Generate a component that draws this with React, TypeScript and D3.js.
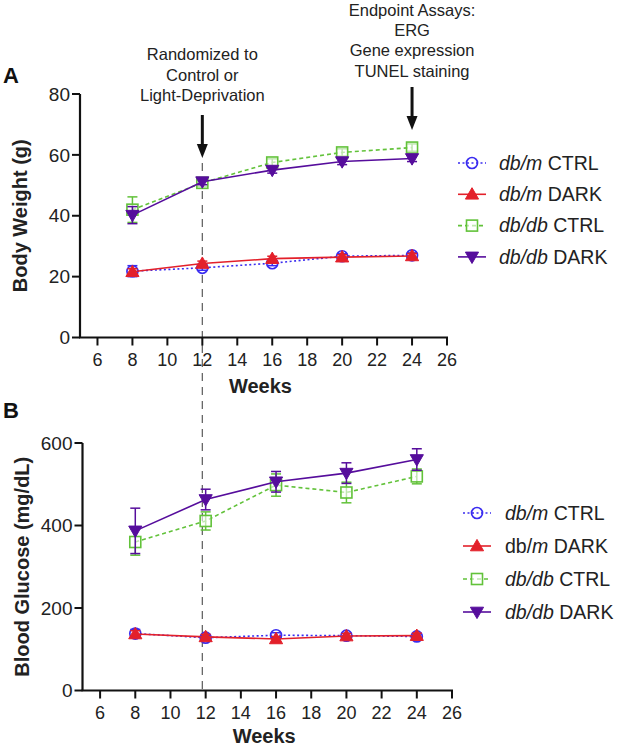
import * as d3 from "d3";

const WEEKS = [8, 12, 16, 20, 24];
const X_TICKS = [6, 8, 10, 12, 14, 16, 18, 20, 22, 24, 26];

// Panel A: body weight (g)
const BW_TICKS = [0, 20, 40, 60, 80];
const BW_CTRL_M = [21.8, 22.9, 24.4, 26.7, 27.0];
const BW_CTRL_M_ERR = [1.8, 0.8, 0.8, 0.8, 0.8];
const BW_DARK_M = [21.6, 24.3, 25.9, 26.4, 26.8];
const BW_DARK_M_ERR = [1.0, 0.8, 0.8, 0.8, 0.8];
const BW_CTRL_DB = [42.0, 50.8, 57.5, 60.8, 62.4];
const BW_CTRL_DB_ERR = [4.2, 1.2, 1.2, 1.2, 1.2];
const BW_DARK_DB = [40.2, 51.2, 55.0, 57.8, 58.8];
const BW_DARK_DB_ERR = [2.8, 1.0, 1.0, 1.0, 1.0];

// Panel B: blood glucose (mg/dL)
const BG_TICKS = [0, 200, 400, 600];
const BG_CTRL_M = [138, 128, 134, 133, 131];
const BG_CTRL_M_ERR = [10, 6, 6, 6, 6];
const BG_DARK_M = [137, 130, 125, 132, 133];
const BG_DARK_M_ERR = [8, 6, 6, 6, 6];
const BG_CTRL_DB = [360, 411, 498, 480, 519];
const BG_CTRL_DB_ERR = [32, 22, 27, 25, 18];
const BG_DARK_DB = [387, 463, 506, 527, 560];
const BG_DARK_DB_ERR = [55, 25, 25, 25, 26];

const RANDOM_LINES = ["Randomized to", "Control or", "Light-Deprivation"];
const ENDPOINT_LINES = ["Endpoint Assays:", "ERG", "Gene expression", "TUNEL staining"];

const FONT = "'Liberation Sans', Arial, Helvetica, sans-serif";

type Style = {
  key: string;
  color: string;
  dash: string;
  shape: "circle" | "tri" | "square" | "tridown";
  filled: boolean;
};

const STYLES: Style[] = [
  { key: "ctrlM", color: "#3a2cf0", dash: "2,2.5", shape: "circle", filled: false },
  { key: "darkM", color: "#e3202a", dash: "none", shape: "tri", filled: true },
  { key: "ctrlDb", color: "#62c23a", dash: "4,3", shape: "square", filled: false },
  { key: "darkDb", color: "#560d9c", dash: "none", shape: "tridown", filled: true },
];

function Marker({ x, y, s }: { x: number; y: number; s: Style }) {
  const fill = s.filled ? s.color : "#fff";
  if (s.shape === "circle") {
    return <circle cx={x} cy={y} r={5.5} fill="none" stroke={s.color} strokeWidth={1.7} />;
  }
  if (s.shape === "square") {
    return <rect x={x - 5.5} y={y - 5.5} width={11} height={11} fill="#fff" fillOpacity={0.6} stroke={s.color} strokeWidth={1.6} />;
  }
  const path = d3.symbol().type(d3.symbolTriangle).size(75)()!;
  const rot = s.shape === "tridown" ? 180 : 0;
  return <path d={path} transform={`translate(${x},${y + (rot ? -1 : 1)}) rotate(${rot})`} fill={fill} stroke={s.color} strokeWidth={1} />;
}

type PanelProps = {
  x0: number;
  x1: number;
  yTop: number;
  yBottom: number;
  yMax: number;
  yTicks: number[];
  series: number[][];
  errs: number[][];
  yTitle: string;
  titleX: number;
  weeksY: number;
};

function Panel({ x0, x1, yTop, yBottom, yMax, yTicks, series, errs, yTitle, titleX, weeksY }: PanelProps) {
  const x = d3.scaleLinear().domain([5, 26]).range([x0, x1]);
  const y = d3.scaleLinear().domain([0, yMax]).range([yBottom, yTop]);
  const line = d3
    .line<number>()
    .x((_, i) => x(WEEKS[i]))
    .y((d) => y(d));

  return (
    <g fontFamily={FONT}>
      {/* series */}
      {series.map((vals, si) => {
        const s = STYLES[si];
        return (
          <g key={s.key}>
            <path d={line(vals)!} fill="none" stroke={s.color} strokeWidth={1.6} strokeDasharray={s.dash} />
            {vals.map((v, i) => {
              const e = errs[si][i];
              const cx = x(WEEKS[i]);
              return (
                <g key={i} stroke={s.color} strokeWidth={1.5}>
                  <line x1={cx} x2={cx} y1={y(v - e)} y2={y(v + e)} />
                  <line x1={cx - 5} x2={cx + 5} y1={y(v - e)} y2={y(v - e)} />
                  <line x1={cx - 5} x2={cx + 5} y1={y(v + e)} y2={y(v + e)} />
                </g>
              );
            })}
            {vals.map((v, i) => (
              <Marker key={"m" + i} x={x(WEEKS[i])} y={y(v)} s={s} />
            ))}
          </g>
        );
      })}

      {/* axes */}
      <line x1={x0} x2={x0} y1={yTop} y2={yBottom} stroke="#111" strokeWidth={2.2} />
      <line x1={x0 - 1} x2={x1 + 1} y1={yBottom} y2={yBottom} stroke="#111" strokeWidth={2.2} />
      {yTicks.map((t) => (
        <g key={t}>
          <line x1={x0 - 8} x2={x0} y1={y(t)} y2={y(t)} stroke="#111" strokeWidth={2} />
          <text x={x0 - 10} y={y(t)} dy="0.35em" textAnchor="end" fontSize={19} fill="#222">
            {t}
          </text>
        </g>
      ))}
      {X_TICKS.map((t) => (
        <g key={t}>
          <line x1={x(t)} x2={x(t)} y1={yBottom} y2={yBottom + 8} stroke="#111" strokeWidth={2} />
          <text x={x(t)} y={yBottom + 28} textAnchor="middle" fontSize={18} fill="#222">
            {t}
          </text>
        </g>
      ))}
      <text x={(x0 + x1) / 2 - 3} y={weeksY} textAnchor="middle" fontSize={20} fontWeight="bold" fill="#222">
        Weeks
      </text>
      <text
        transform={`translate(${titleX},${(yTop + yBottom) / 2}) rotate(-90)`}
        dy="0.35em"
        textAnchor="middle"
        fontSize={20}
        fontWeight="bold"
        fill="#222"
      >
        {yTitle}
      </text>
    </g>
  );
}

function Legend({ lx, tx, y0, step, variant }: { lx: number; tx: number; y0: number; step: number; variant: "A" | "B" }) {
  const labels = [
    [["db/m", true], [" CTRL", false]],
    variant === "A"
      ? [["db/m", true], [" DARK", false]]
      : [["db/", false], ["m", true], [" DARK", false]],
    [["db/db", true], [" CTRL", false]],
    [["db/db", true], [" DARK", false]],
  ] as [string, boolean][][];
  return (
    <g fontFamily={FONT}>
      {STYLES.map((s, i) => {
        const yy = y0 + i * step;
        return (
          <g key={s.key}>
            <line x1={lx - 14} x2={lx + 14} y1={yy} y2={yy} stroke={s.color} strokeWidth={1.6} strokeDasharray={s.dash} />
            <Marker x={lx} y={yy} s={s} />
            <text x={tx} y={yy} dy="0.35em" fontSize={19.5} fill="#222">
              {labels[i].map(([t, it], j) => (
                <tspan key={j} fontStyle={it ? "italic" : "normal"}>
                  {t}
                </tspan>
              ))}
            </text>
          </g>
        );
      })}
    </g>
  );
}

function Arrow({ x, y1, y2 }: { x: number; y1: number; y2: number }) {
  return (
    <g>
      <line x1={x} x2={x} y1={y1} y2={y2 - 12} stroke="#111" strokeWidth={3} />
      <path d={`M${x - 5.5},${y2 - 14} L${x + 5.5},${y2 - 14} L${x},${y2} Z`} fill="#111" />
    </g>
  );
}

export default function App() {
  const xA = d3.scaleLinear().domain([5, 26]).range([80, 447]);
  const xRand = xA(12);
  const xEnd = xA(24);
  return (
    <div style={{ position: "absolute", left: 0, top: 0 }}>
      <svg width={620} height={748} style={{ display: "block", background: "#fff" }}>
        {/* dashed randomization line across both panels */}
        <line x1={xRand} x2={xRand} y1={163} y2={690} stroke="#666" strokeWidth={1.3} strokeDasharray="8,6" />

        <Panel
          x0={80}
          x1={447}
          yTop={94}
          yBottom={337.5}
          yMax={80}
          yTicks={BW_TICKS}
          series={[BW_CTRL_M, BW_DARK_M, BW_CTRL_DB, BW_DARK_DB]}
          errs={[BW_CTRL_M_ERR, BW_DARK_M_ERR, BW_CTRL_DB_ERR, BW_DARK_DB_ERR]}
          yTitle="Body Weight (g)"
          titleX={20}
          weeksY={393}
        />
        <Panel
          x0={82.5}
          x1={452}
          yTop={443}
          yBottom={690.5}
          yMax={600}
          yTicks={BG_TICKS}
          series={[BG_CTRL_M, BG_DARK_M, BG_CTRL_DB, BG_DARK_DB]}
          errs={[BG_CTRL_M_ERR, BG_DARK_M_ERR, BG_CTRL_DB_ERR, BG_DARK_DB_ERR]}
          yTitle="Blood Glucose (mg/dL)"
          titleX={21.5}
          weeksY={743}
        />

        <Legend lx={472} tx={499} y0={163} step={31.3} variant="A" />
        <Legend lx={477} tx={505} y0={513} step={33} variant="B" />

        <g fontFamily={FONT} fill="#222" fontSize={16.5} textAnchor="middle">
          {RANDOM_LINES.map((t, i) => (
            <text key={t} x={xRand} y={60 + i * 20.5}>
              {t}
            </text>
          ))}
          {ENDPOINT_LINES.map((t, i) => (
            <text key={t} x={xEnd} y={16 + i * 20.2}>
              {t}
            </text>
          ))}
        </g>
        <Arrow x={xRand} y1={115} y2={158} />
        <Arrow x={xEnd} y1={87} y2={130} />

        <g fontFamily={FONT} fontWeight="bold" fontSize={22} fill="#111">
          <text x={3} y={83}>A</text>
          <text x={3} y={418}>B</text>
        </g>
      </svg>
    </div>
  );
}
